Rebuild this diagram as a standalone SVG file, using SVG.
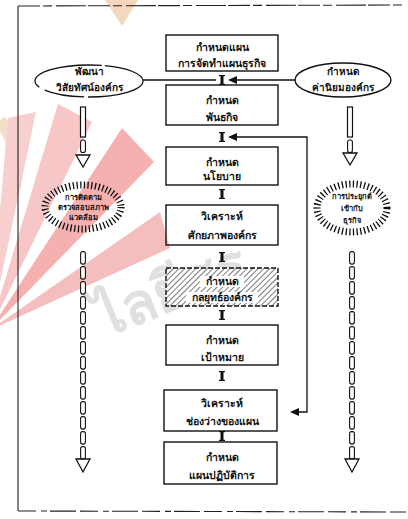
<svg xmlns="http://www.w3.org/2000/svg" width="408" height="519" viewBox="0 0 408 519">
  <defs>
    <style>
      text { font-family: "Noto Sans", "DejaVu Sans", sans-serif; fill: #111; text-anchor: middle; }
      .bx { font-size: 10.5px; font-weight: bold; }
      .ov { font-size: 10px; font-weight: bold; }
      .sb { font-size: 7.5px; font-weight: bold; }
      .box { fill: none; stroke: #111; stroke-width: 1.4; }
      .edge { fill: none; stroke: #111; stroke-width: 1.3; }
      .frame { fill: none; stroke: #222; stroke-width: 1.1; }
      .burst { fill: none; stroke: #111; stroke-width: 7; stroke-dasharray: 1.3 2.4; }
      .head { fill: #fff; stroke: #111; stroke-width: 1.3; stroke-linejoin: miter; }
      .wm { font-family: "Noto Sans", "DejaVu Sans", sans-serif; font-size: 56px; font-weight: bold; fill: #e0e0e0; text-anchor: start; }
    </style>
    <pattern id="hatch" width="4" height="4" patternUnits="userSpaceOnUse" patternTransform="rotate(45)">
      <rect width="4" height="4" fill="#fff"/>
      <line x1="0" y1="0" x2="0" y2="4" stroke="#333" stroke-width="1.3"/>
    </pattern>
    <!-- chain-link shafts of the hollow arrows -->
    <pattern id="chainL" x="80" y="251" width="6" height="15" patternUnits="userSpaceOnUse">
      <rect x="0.6" y="0.6" width="4.8" height="12.5" rx="2" fill="#fff" stroke="#111" stroke-width="1.1"/>
    </pattern>
    <pattern id="chainR" x="349" y="251" width="6" height="15" patternUnits="userSpaceOnUse">
      <rect x="0.6" y="0.6" width="4.8" height="12.5" rx="2" fill="#fff" stroke="#111" stroke-width="1.1"/>
    </pattern>
    <!-- short step link between stacked boxes -->
    <g id="step">
      <rect x="-1.5" y="0" width="3" height="10" fill="#111"/>
      <line x1="-3" y1="0.6" x2="3" y2="0.6" stroke="#111" stroke-width="1.2"/>
      <line x1="-3" y1="9.4" x2="3" y2="9.4" stroke="#111" stroke-width="1.2"/>
    </g>
    <g id="link">
      <rect x="-2.4" y="0" width="4.8" height="12.5" rx="2" fill="#fff" stroke="#111" stroke-width="1.1"/>
    </g>
  </defs>

  <rect width="408" height="519" fill="#fff"/>

  <!-- faint library watermark -->
  <g id="watermark" opacity="0.55">
    <polygon points="105,0 138,0 122,26" fill="#eab98a"/>
    <path d="M0,120 Q34,168 0,218" fill="none" stroke="#e9c79c" stroke-width="12"/>
    <polygon points="-10,330 8,118 36,112" fill="#f2a8a8"/>
    <polygon points="-10,330 58,104 92,122" fill="#f29a9a"/>
    <polygon points="-10,330 122,128 154,162" fill="#ee7070"/>
    <polygon points="-10,330 160,212 170,248" fill="#ee8a8a"/>
  </g>
  <text class="wm" x="104" y="338" transform="rotate(-22 104 338)">ไลยีสุร</text>

  <!-- outer frame -->
  <g id="frame">
    <line class="frame" x1="18" y1="6" x2="18" y2="511"/>
    <line class="frame" x1="18" y1="6" x2="406" y2="5" stroke-dasharray="22 3 9 4 30 2"/>
    <line class="frame" x1="18" y1="511" x2="406" y2="512" stroke-dasharray="18 5 6 3 26 4"/>
  </g>

  <!-- connectors -->
  <g id="connectors">
    <use href="#step" x="222" y="75"/>
    <use href="#step" x="222" y="132"/>
    <use href="#step" x="222" y="189"/>
    <use href="#step" x="222" y="252"/>
    <use href="#step" x="222" y="310"/>
    <use href="#step" x="222" y="371"/>
    <use href="#step" x="222" y="431"/>

    <!-- vision and values feed into the planning column -->
    <line class="edge" x1="143" y1="80" x2="216" y2="80"/>
    <line class="edge" x1="295" y1="80" x2="236" y2="80"/>
    <polygon points="228,80 237,76 237,84" fill="#111"/>

    <!-- feedback loop from gap analysis -->
    <polyline class="edge" points="297,412 307,412 307,137 236,137"/>
    <polygon points="228,137 237,133 237,141" fill="#111"/>
    <polygon points="290,412 299,408 299,416" fill="#111"/>

    <!-- left hollow arrow: vision to monitoring -->
    <rect x="80.5" y="107" width="5" height="30" fill="#fff" stroke="#111" stroke-width="1.2"/>
    <use href="#link" x="83" y="140"/>
    <polygon class="head" points="76,155 90,155 83,167"/>

    <!-- right hollow arrow: values to application -->
    <rect x="347.5" y="107" width="5" height="30" fill="#fff" stroke="#111" stroke-width="1.2"/>
    <use href="#link" x="350" y="140"/>
    <polygon class="head" points="343,153 357,153 350,165"/>

    <!-- long chain arrows running down both sides -->
    <rect x="80" y="251" width="6" height="208" fill="url(#chainL)"/>
    <polygon class="head" points="76,459 90,459 83,472"/>

    <rect x="349" y="251" width="6" height="208" fill="url(#chainR)"/>
    <polygon class="head" points="345,459 359,459 352,472"/>
  </g>

  <!-- side ovals -->
  <g id="vision">
    <ellipse cx="89" cy="81" rx="54" ry="16" fill="#fff" stroke="#111" stroke-width="1.3" stroke-dasharray="60 4 40 6 80 3"/>
    <text class="ov" x="89" y="75">พัฒนา</text>
    <text class="ov" x="89" y="91">วิสัยทัศน์องค์กร</text>
  </g>
  <g id="values">
    <ellipse cx="343" cy="80" rx="48" ry="17" fill="#fff" stroke="#111" stroke-width="1.4"/>
    <text class="ov" x="343" y="75">กำหนด</text>
    <text class="ov" x="343" y="91">ค่านิยมองค์กร</text>
  </g>

  <!-- starbursts -->
  <g id="monitoring">
    <ellipse class="burst" cx="83" cy="207" rx="38" ry="22"/>
    <text class="sb" x="83" y="200">การติดตาม</text>
    <text class="sb" x="83" y="210">ตรวจสอบสภาพ</text>
    <text class="sb" x="83" y="220">แวดล้อม</text>
  </g>
  <g id="application">
    <ellipse class="burst" cx="352" cy="208" rx="35" ry="24"/>
    <text class="sb" x="352" y="199">การประยุกต์</text>
    <text class="sb" x="352" y="211">เข้ากับ</text>
    <text class="sb" x="352" y="223">ธุรกิจ</text>
  </g>

  <!-- planning column -->
  <g id="plan-to-plan">
    <rect class="box" x="166" y="35" width="112" height="36"/>
    <text class="bx" x="222" y="51">กำหนดแผน</text>
    <text class="bx" x="222" y="67">การจัดทำแผนธุรกิจ</text>
  </g>
  <g id="mission">
    <rect class="box" x="166" y="85" width="112" height="40"/>
    <text class="bx" x="222" y="104">กำหนด</text>
    <text class="bx" x="222" y="121">พันธกิจ</text>
  </g>
  <g id="policy">
    <rect class="box" x="166" y="147" width="112" height="38"/>
    <text class="bx" x="222" y="166">กำหนด</text>
    <text class="bx" x="222" y="180">นโยบาย</text>
  </g>
  <g id="audit">
    <rect class="box" x="166" y="205" width="112" height="40"/>
    <text class="bx" x="222" y="220">วิเคราะห์</text>
    <text class="bx" x="222" y="239">ศักยภาพองค์กร</text>
  </g>
  <g id="strategy">
    <rect x="166" y="268" width="112" height="38" fill="url(#hatch)" stroke="#111" stroke-width="1.4" stroke-dasharray="5 2"/>
    <rect x="200" y="276" width="44" height="11" fill="#fff"/>
    <rect x="186" y="292" width="72" height="11" fill="#fff"/>
    <text class="bx" x="222" y="285">กำหนด</text>
    <text class="bx" x="222" y="301">กลยุทธ์องค์กร</text>
  </g>
  <g id="goals">
    <rect class="box" x="166" y="325" width="112" height="40"/>
    <text class="bx" x="222" y="344">กำหนด</text>
    <text class="bx" x="222" y="361">เป้าหมาย</text>
  </g>
  <g id="gap">
    <rect class="box" x="164" y="390" width="113" height="41"/>
    <text class="bx" x="222" y="407">วิเคราะห์</text>
    <text class="bx" x="222" y="425">ช่องว่างของแผน</text>
  </g>
  <g id="action-plan">
    <rect class="box" x="164" y="442" width="113" height="42"/>
    <text class="bx" x="222" y="461">กำหนด</text>
    <text class="bx" x="222" y="479">แผนปฏิบัติการ</text>
  </g>
</svg>
